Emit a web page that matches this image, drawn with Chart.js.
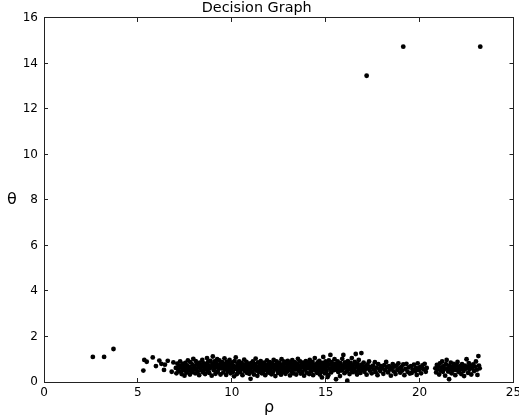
<!DOCTYPE html>
<html>
<head>
<meta charset="utf-8">
<script src="https://cdn.jsdelivr.net/npm/chart.js@4/dist/chart.umd.min.js"></script>
<style>
html,body{margin:0;padding:0;background:#fff;}
canvas{display:block;}
</style>
</head>
<body>
<canvas id="c" width="519" height="420"></canvas>
<script>
// ---- data ----
const chartTitle = 'Decision Graph';
const xLabel = 'ρ';
const yLabel = 'θ';
const xMin = 0, xMax = 25, xStep = 5;
const yMin = 0, yMax = 16, yStep = 2;

// isolated points (cluster centres + stray points)
const outlierRho   = [2.6, 3.2, 3.7, 17.18, 19.13, 23.23];
const outlierTheta = [1.1, 1.1, 1.45, 13.46, 14.74, 14.74];

// the dense band of ordinary points [rho, theta]
const bandPoints = [
[5.29,0.5],[5.34,0.97],[5.47,0.89],[5.79,1.08],[5.96,0.7],[6.14,0.94],[6.25,0.8],[6.39,0.53],[6.44,0.76],[6.59,0.93],[6.8,0.45],[6.89,0.86],
[7.02,0.62],[7.05,0.38],[7.1,0.81],[7.14,0.55],[7.18,0.72],[7.22,0.47],[7.25,0.91],[7.3,0.63],[7.33,0.35],[7.37,0.78],[7.41,0.52],[7.45,0.69],[7.48,0.28],
[7.52,0.84],[7.55,0.58],[7.58,0.41],[7.62,0.73],[7.66,0.95],[7.7,0.5],[7.73,0.66],[7.77,0.33],[7.8,0.87],[7.84,0.6],[7.88,0.44],[7.91,0.76],[7.95,1.02],[7.98,0.55],
[8.02,0.7],[8.05,0.38],[8.08,0.92],[8.12,0.57],[8.15,0.8],[8.19,0.46],[8.22,0.65],[8.26,0.3],[8.29,0.85],[8.33,0.6],[8.36,0.74],[8.4,0.5],[8.43,0.97],[8.47,0.42],[8.49,0.68],
[8.52,0.82],[8.55,0.55],[8.58,0.35],[8.61,0.77],[8.64,0.63],[8.68,1.05],[8.71,0.48],[8.74,0.88],[8.77,0.71],[8.8,0.4],[8.83,0.59],[8.86,0.93],[8.9,0.66],[8.93,0.28],[8.96,0.79],[8.99,1.12],
[9.02,0.74],[9.05,0.52],[9.08,0.9],[9.1,0.62],[9.13,0.36],[9.16,0.84],[9.19,0.68],[9.22,1.0],[9.25,0.45],[9.28,0.76],[9.31,0.58],[9.34,0.95],[9.37,0.7],[9.4,0.33],[9.43,0.82],[9.46,0.6],[9.49,0.87],
[9.52,0.65],[9.55,0.42],[9.58,0.79],[9.61,1.04],[9.64,0.56],[9.67,0.73],[9.7,0.31],[9.73,0.89],[9.76,0.61],[9.79,0.47],[9.82,0.8],[9.85,0.67],[9.88,0.97],[9.91,0.53],[9.94,0.38],[9.97,0.75],
[10.0,0.62],[10.03,0.86],[10.06,0.44],[10.09,0.71],[10.12,0.25],[10.15,0.92],[10.18,0.58],[10.21,1.08],[10.24,0.66],[10.27,0.35],[10.3,0.8],[10.33,0.51],[10.36,0.74],[10.39,0.9],[10.42,0.6],[10.45,0.42],[10.48,0.69],
[10.51,0.84],[10.54,0.57],[10.57,0.3],[10.6,0.77],[10.63,0.64],[10.66,0.98],[10.69,0.48],[10.72,0.72],[10.75,0.55],[10.78,0.88],[10.81,0.4],[10.84,0.67],[10.87,0.81],[10.9,0.52],[10.93,0.36],[10.96,0.75],[10.99,0.6],
[11.0,0.14],[11.03,0.83],[11.06,0.63],[11.09,0.45],[11.12,0.9],[11.15,0.7],[11.18,0.33],[11.21,0.58],[11.24,0.79],[11.27,1.03],[11.3,0.5],[11.33,0.68],[11.36,0.27],[11.39,0.86],[11.42,0.61],[11.45,0.43],[11.48,0.74],
[11.51,0.56],[11.54,0.92],[11.57,0.69],[11.6,0.38],[11.63,0.8],[11.66,0.6],[11.69,0.47],[11.72,0.85],[11.75,0.66],[11.78,0.3],[11.81,0.74],[11.84,0.54],[11.87,0.95],[11.9,0.62],[11.93,0.41],[11.96,0.78],[11.99,0.58],
[12.02,0.87],[12.05,0.5],[12.08,0.7],[12.11,0.34],[12.14,0.82],[12.17,0.64],[12.2,0.44],[12.23,0.97],[12.26,0.58],[12.29,0.75],[12.32,0.26],[12.35,0.68],[12.38,0.9],[12.41,0.53],[12.44,0.79],[12.47,0.4],
[12.5,0.63],[12.53,0.85],[12.56,0.48],[12.59,0.72],[12.62,0.32],[12.65,1.0],[12.68,0.59],[12.71,0.77],[12.74,0.43],[12.77,0.66],[12.8,0.89],[12.83,0.55],[12.86,0.36],[12.89,0.8],[12.92,0.62],[12.95,0.46],[12.98,0.93],
[13.01,0.7],[13.04,0.52],[13.07,0.84],[13.1,0.29],[13.13,0.65],[13.16,0.78],[13.19,0.45],[13.22,0.96],[13.25,0.6],[13.28,0.38],[13.31,0.73],[13.34,0.87],[13.37,0.55],[13.4,0.68],[13.43,0.33],[13.46,0.82],[13.49,0.6],
[13.52,1.02],[13.55,0.49],[13.58,0.71],[13.61,0.57],[13.64,0.9],[13.67,0.37],[13.7,0.76],[13.73,0.63],[13.76,0.44],[13.79,0.85],[13.82,0.66],[13.85,0.28],[13.88,0.79],[13.91,0.54],[13.94,0.92],[13.97,0.69],
[14.0,0.41],[14.03,0.83],[14.06,0.62],[14.09,0.74],[14.12,0.35],[14.15,0.97],[14.18,0.56],[14.21,0.8],[14.24,0.47],[14.27,0.67],[14.3,0.88],[14.33,0.3],[14.36,0.72],[14.39,0.59],[14.42,1.05],[14.45,0.5],[14.48,0.77],
[14.51,0.64],[14.54,0.4],[14.57,0.86],[14.6,0.7],[14.63,0.53],[14.66,0.93],[14.69,0.33],[14.72,0.78],[14.75,0.61],[14.78,0.45],[14.8,0.2],[14.81,0.84],[14.84,0.68],[14.87,1.1],[14.9,0.56],[14.93,0.74],[14.96,0.38],[14.99,0.9],
[15.02,0.65],[15.05,0.48],[15.08,0.82],[15.1,0.22],[15.11,0.71],[15.14,0.3],[15.17,0.95],[15.25,1.19],[15.23,0.58],[15.26,0.77],[15.29,0.42],[15.32,0.87],[15.35,0.63],[15.41,0.73],[15.44,0.52],[15.47,1.0],[15.5,0.66],
[15.53,0.8],[15.55,0.12],[15.58,0.55],[15.61,0.69],[15.64,0.9],[15.67,0.44],[15.7,0.76],[15.73,0.6],[15.76,0.26],[15.79,0.83],[15.82,0.5],[15.85,0.68],[15.88,1.02],[15.91,0.57],[15.94,1.19],[15.97,0.74],
[16.0,0.39],[16.03,0.86],[16.06,0.63],[16.09,0.71],[16.12,0.47],[16.15,0.06],[16.18,0.92],[16.21,0.58],[16.24,0.78],[16.27,0.35],[16.3,0.66],[16.33,0.84],[16.36,0.52],[16.39,1.05],[16.42,0.61],[16.45,0.43],[16.48,0.75],
[16.52,0.57],[16.55,0.88],[16.6,1.23],[16.61,0.46],[16.64,0.7],[16.67,0.33],[16.7,0.8],[16.73,0.62],[16.76,0.97],[16.79,0.5],[16.82,0.68],[16.85,0.4],[16.9,1.27],[16.91,0.76],[16.94,0.55],[16.97,0.64],
[17.02,0.85],[17.06,0.45],[17.1,0.69],[17.14,0.58],[17.18,0.32],[17.22,0.77],[17.27,0.6],[17.31,0.9],[17.35,0.5],[17.4,0.66],[17.45,0.38],
[17.52,0.72],[17.57,0.55],[17.62,0.87],[17.66,0.43],[17.71,0.63],[17.76,0.3],[17.8,0.78],[17.85,0.58],[17.9,0.48],[17.95,0.7],
[18.02,0.6],[18.07,0.36],[18.12,0.74],[18.17,0.52],[18.22,0.88],[18.27,0.65],[18.32,0.42],[18.37,0.7],[18.42,0.55],[18.47,0.28],
[18.52,0.62],[18.57,0.79],[18.62,0.47],[18.67,0.68],[18.72,0.35],[18.77,0.72],[18.82,0.53],[18.87,0.82],[18.92,0.6],[18.97,0.41],
[19.03,0.66],[19.08,0.5],[19.13,0.77],[19.19,0.3],[19.25,0.58],[19.3,0.8],[19.36,0.45],[19.42,0.64],[19.48,0.37],
[19.54,0.7],[19.58,0.4],[19.63,0.55],[19.7,0.76],[19.76,0.47],[19.81,0.62],[19.85,0.31],[19.9,0.82],[19.96,0.52],[20.02,0.65],[20.08,0.38],[20.15,0.73],[20.2,0.56],[20.27,0.8],[20.33,0.45],[20.38,0.62],
[20.84,0.6],[20.88,0.42],[20.92,0.75],[20.96,0.55],[21.0,0.68],[21.04,0.33],[21.08,0.82],[21.12,0.5],[21.16,0.64],[21.2,0.9],[21.24,0.45],[21.28,0.7],[21.32,0.57],[21.36,0.28],[21.4,0.78],[21.44,0.97],[21.48,0.6],
[21.52,0.46],[21.57,0.12],[21.58,0.72],[21.62,0.55],[21.66,0.85],[21.7,0.38],[21.74,0.66],[21.78,0.5],[21.82,0.8],[21.86,0.6],[21.9,0.3],[21.94,0.74],[21.98,0.52],
[22.02,0.88],[22.06,0.62],[22.1,0.43],[22.14,0.7],[22.18,0.56],[22.22,0.35],[22.26,0.79],[22.3,0.64],[22.34,0.48],[22.37,0.26],[22.41,0.72],[22.46,0.58],[22.5,1.0],
[22.54,0.66],[22.58,0.4],[22.62,0.83],[22.66,0.55],[22.7,0.7],[22.75,0.33],[22.8,0.62],[22.85,0.77],[22.9,0.48],[22.95,0.68],[23.0,0.9],[23.05,0.54],[23.08,0.31],[23.13,1.14],[23.16,0.72],[23.2,0.6]
];

// ---- chart ----
const FONT = "'DejaVu Sans', 'Liberation Sans', sans-serif";
const AXIS_COLOR = '#222';

const outlierData = outlierRho.map((r, i) => ({x: r, y: outlierTheta[i]}));
const bandData = bandPoints.map(p => ({x: p[0], y: p[1]}));

// axis labels (upright, as in the reference)
const labelPlugin = {
  id: 'axislabels',
  afterDraw(chart) {
    const ctx = chart.ctx;
    ctx.save();
    ctx.fillStyle = '#000';
    ctx.font = '16px ' + FONT;
    ctx.fillText(xLabel, 264, 412);
    ctx.fillText(yLabel, 7, 203.5);
    ctx.restore();
  }
};

// shared style for the box: border on every side, ticks pointing inward
const boxGrid = {display: true, drawOnChartArea: false, drawTicks: true, tickLength: -4, color: AXIS_COLOR, lineWidth: 1};
const boxBorder = {display: true, color: AXIS_COLOR, width: 1};

new Chart(document.getElementById('c'), {
  type: 'scatter',
  data: {
    datasets: [
      {data: bandData, backgroundColor: '#000', borderWidth: 0, pointRadius: 2.4, xAxisID: 'x', yAxisID: 'y'},
      {data: outlierData, backgroundColor: '#000', borderWidth: 0, pointRadius: 2.4, xAxisID: 'x', yAxisID: 'y'}
    ]
  },
  options: {
    responsive: false,
    animation: false,
    layout: {padding: {left: 0, right: 5.5, top: 0, bottom: 0}},
    plugins: {
      legend: {display: false},
      tooltip: {enabled: false},
      title: {
        display: true,
        text: chartTitle,
        color: '#000',
        font: {family: FONT, size: 14.4, weight: 'normal'},
        padding: {top: 0, bottom: 0.7}
      }
    },
    scales: {
      x: {
        type: 'linear', position: 'bottom',
        min: xMin, max: xMax,
        grid: boxGrid,
        border: boxBorder,
        ticks: {stepSize: xStep, color: '#000', font: {family: FONT, size: 12}, padding: 8, maxRotation: 0, autoSkip: false},
        afterFit: s => { s.height = 38; s.paddingLeft = 0; s.paddingRight = 0; }
      },
      x2: {
        type: 'linear', position: 'top',
        min: xMin, max: xMax,
        grid: boxGrid,
        border: boxBorder,
        ticks: {stepSize: xStep, display: false},
        afterFit: s => { s.height = 0; s.paddingLeft = 0; s.paddingRight = 0; }
      },
      y: {
        type: 'linear', position: 'left',
        min: yMin, max: yMax,
        grid: boxGrid,
        border: boxBorder,
        ticks: {stepSize: yStep, color: '#000', font: {family: FONT, size: 12}, padding: 10, autoSkip: false},
        afterFit: s => { s.width = 44; s.paddingTop = 0; s.paddingBottom = 0; }
      },
      y2: {
        type: 'linear', position: 'right',
        min: yMin, max: yMax,
        grid: boxGrid,
        border: boxBorder,
        ticks: {stepSize: yStep, display: false},
        afterFit: s => { s.width = 0; s.paddingTop = 0; s.paddingBottom = 0; }
      }
    }
  },
  plugins: [labelPlugin]
});
</script>
</body>
</html>
